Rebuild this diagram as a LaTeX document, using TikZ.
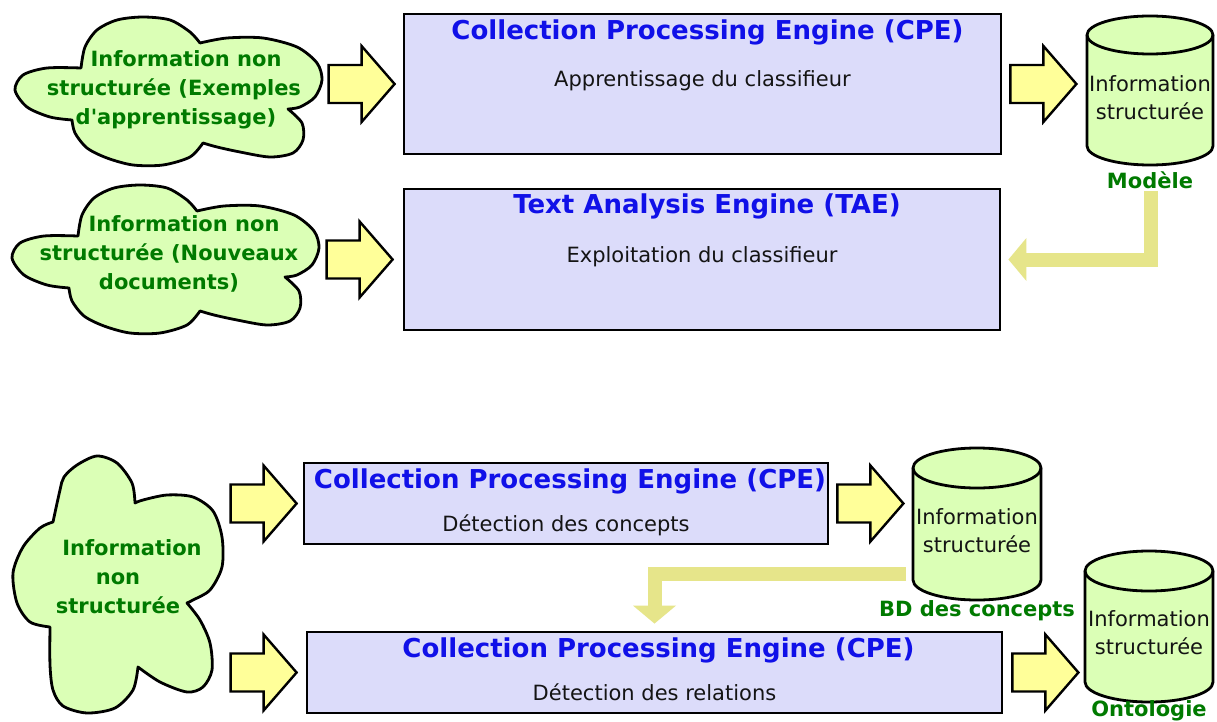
\documentclass[tikz,border=0pt]{standalone}
\usepackage{fontspec}
\setmainfont{DejaVu Sans}
% same family without the TeX input mapping, so that ' stays a straight quote
\newfontfamily\straightfont{DejaVu Sans}
\usetikzlibrary{calc,arrows.meta}

\definecolor{boxfill}{RGB}{220,220,250}
\definecolor{greenfill}{RGB}{219,255,182}
\definecolor{arrowfill}{RGB}{255,255,153}
\definecolor{feedcol}{RGB}{230,229,138}
\definecolor{titleblue}{RGB}{16,16,232}
\definecolor{darkgreen}{RGB}{0,122,0}
\definecolor{inktext}{RGB}{20,20,20}

% cylinder drawn from its left, top, right, bottom edges and the cap radius
\newcommand\drawcyl[5]{%
  \pgfmathsetmacro\cylrx{(#3-#1)/2}%
  \draw[cylstyle] (#1,#2+#5) -- (#1,#4-#5)
    arc[start angle=180,end angle=0,x radius=\cylrx,y radius=#5]
    -- (#3,#2+#5)
    arc[start angle=0,end angle=-180,x radius=\cylrx,y radius=#5] -- cycle;
  \draw[cylstyle,fill=none] (#1,#2+#5)
    arc[start angle=180,end angle=0,x radius=\cylrx,y radius=#5];
}

% outline of the wide cloud, lobe by lobe
\newcommand\widecloud{%
  plot[smooth] coordinates {(81,68) (85,47) (97,30) (117,20) (143,17) (170,20) (190,32) (200,43)}
  -- plot[smooth] coordinates {(200,43) (227,38) (263,38) (297,47) (317,63) (322,80) (315,97) (300,107) (288,109)}
  -- plot[smooth] coordinates {(288,109) (302,123) (303,140) (293,153) (270,157) (240,152) (217,147) (203,143)}
  -- plot[smooth] coordinates {(203,143) (190,157) (163,165) (133,165) (107,158) (87,148) (75,133) (72,120)}
  -- plot[smooth] coordinates {(72,120) (50,117) (27,107) (15,90) (23,75) (47,68) (81,68)}
  -- cycle}

\tikzset{
  engine/.style={draw=black, line width=2.8pt, fill=boxfill, rectangle, inner sep=0pt},
  ttl/.style={text=titleblue, font=\bfseries\fontsize{26}{30}\selectfont, inner sep=0pt},
  subttl/.style={text=inktext, font=\fontsize{21}{25}\selectfont, inner sep=0pt},
  cloudstyle/.style={draw=black, line width=2.8pt, fill=greenfill, line join=round},
  cloudtxt/.style={text=darkgreen, font=\straightfont\bfseries\fontsize{21}{29}\selectfont, align=center, inner sep=0pt},
  cylstyle/.style={draw=black, line width=2.8pt, fill=greenfill},
  cyltxt/.style={text=inktext, font=\fontsize{21}{28}\selectfont, align=center, inner sep=0pt},
  lbl/.style={text=darkgreen, font=\bfseries\fontsize{21}{25}\selectfont, inner sep=0pt},
  blockarrow/.style={draw=black, line width=2.4pt, fill=arrowfill, line join=miter},
  barrow/.pic={\draw[blockarrow] (-66,-19) -- (-33,-19) -- (-33,-38) -- (0,0)
      -- (-33,38) -- (-33,19) -- (-66,19) -- cycle;},
  feed/.style={draw=feedcol, line width=14pt, -{Triangle[width=42pt,length=18pt]}},
}

\begin{document}
\begin{tikzpicture}[x=1pt,y=-1pt]
\fill[white] (0,0) rectangle (1217,722);
\useasboundingbox (0,0) rectangle (1217,722);

% ---------- upper part: training and use of the classifier ----------
\draw[cloudstyle] \widecloud;
\node[cloudtxt] (cloudA) at (174,90) {\hspace*{24pt}Information non\\structurée (Exemples\\\hspace*{4pt}d'apprentissage)};

\draw[cloudstyle, shift={(-3,168)}] \widecloud;
\node[cloudtxt] (cloudB) at (169,254) {\hspace*{30pt}Information non\\structurée (Nouveaux\\documents)};

\node[engine, minimum width=597pt, minimum height=140pt] (cpeA) at (702.5,84) {};
\node[ttl] (cpeAt) at ($(cpeA.north)+(5,20)$) {Collection Processing Engine (CPE)};
\node[subttl] (cpeAs) at ($(cpeA.north)+(0,68)$) {Apprentissage du classifieur};

\node[engine, minimum width=596pt, minimum height=141pt] (tae) at (702,259.5) {};
\node[ttl] (taet) at ($(tae.north)+(5,19)$) {Text Analysis Engine (TAE)};
\node[subttl] (taes) at ($(tae.north)+(0,69)$) {Exploitation du classifieur};

\drawcyl{1087}{16}{1213}{165}{19}
\node[cyltxt] (cylA) at (1150,98) {Information\\structurée};
\node[lbl] (modele) at (1150,180) {Modèle};

\pic at ($(cpeA.west)+(-8,0)$) {barrow};
\pic at ($(tae.west)+(-10,0)$) {barrow};
\pic at ($(cpeA.east)+(74,0)$) {barrow};

\coordinate (mtail) at (1151,191);
\draw[feed] (mtail) |- ($(tae.east)+(7,0)$);

% ---------- lower part: concepts, then relations ----------
\draw[cloudstyle]
  plot[smooth] coordinates {(53,522) (60,490) (64,477) (77,465) (97,456) (117,463) (132,483) (135,503)}
  -- plot[smooth] coordinates {(135,503) (143,500) (167,495) (193,497) (213,511) (222,537) (222,567) (210,590) (193,600) (187,603)}
  -- plot[smooth] coordinates {(187,603) (200,620) (210,643) (212,670) (203,687) (187,692) (160,682) (138,667)}
  -- plot[smooth] coordinates {(138,667) (133,690) (115,708) (87,713) (63,706) (53,690) (50,665) (50,627)}
  -- plot[smooth] coordinates {(50,627) (30,622) (17,603) (13,573) (23,547) (40,528) (53,522)}
  -- cycle;
\node[cloudtxt] (cloudC) at (118,577) {\hspace*{28pt}Information\\non\\structurée};

\node[engine, minimum width=524pt, minimum height=81pt] (cpeB) at (566,503.5) {};
\node[ttl] (cpeBt) at ($(cpeB.north)+(4,20)$) {Collection Processing Engine (CPE)};
\node[subttl] (cpeBs) at ($(cpeB.north)+(0,64)$) {Détection des concepts};

\node[engine, minimum width=695pt, minimum height=81pt] (cpeC) at (654.5,672.5) {};
\node[ttl] (cpeCt) at ($(cpeC.north)+(4,20)$) {Collection Processing Engine (CPE)};
\node[subttl] (cpeCs) at ($(cpeC.north)+(0,62)$) {Détection des relations};

\drawcyl{913}{448}{1041}{600}{20}
\node[cyltxt] (cylB) at (977,531) {Information\\structurée};
\node[lbl] (bdlbl) at (977,611) {BD des concepts};

\drawcyl{1085}{551}{1213}{702}{20}
\node[cyltxt] (cylC) at (1149,633) {Information\\structurée};
\node[lbl] (ontolbl) at (1149,711) {Ontologie};

\pic at ($(cpeB.west)+(-6,0)$) {barrow};
\pic at ($(cpeC.west)+(-9,0)$) {barrow};
\pic at ($(cpeB.east)+(74,0)$) {barrow};
\pic at ($(cpeC.east)+(75,0)$) {barrow};

\coordinate (btail) at (906,574);
\draw[feed] (btail) -| ($(cpeC.north)+(0,-7)$);
\end{tikzpicture}
\end{document}
